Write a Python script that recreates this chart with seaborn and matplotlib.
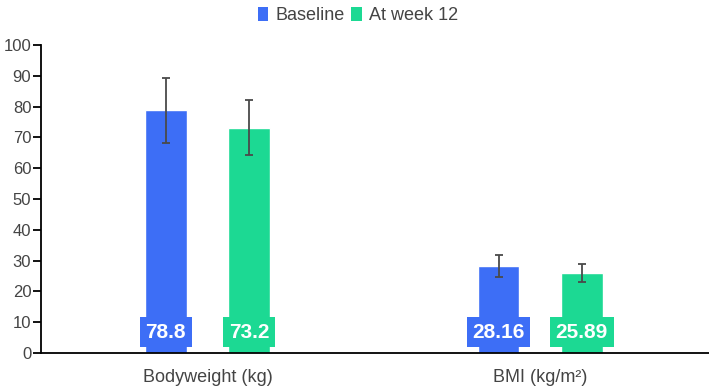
import matplotlib
matplotlib.use("Agg")
import matplotlib.pyplot as plt
import seaborn as sns
import pandas as pd
from matplotlib.patches import Patch

# ---- Data -------------------------------------------####
categories = ['Bodyweight (kg)', 'BMI (kg/m²)']
groups = ['Baseline', 'At week 12']
baseline_mean = [78.8, 28.16]
baseline_sd = [10.6, 3.6]
week12_mean = [73.2, 25.89]
week12_sd = [8.9, 2.9]
label_text = [['78.8', '28.16'], ['73.2', '25.89']]

colors = ['#3D6EF6', '#1CD993']
text_grey = '#444444'

df = pd.DataFrame({
    'measure': categories * 2,
    'group': [groups[0]] * 2 + [groups[1]] * 2,
    'value': baseline_mean + week12_mean,
})
sds = [baseline_sd, week12_sd]

# ---- Plot -------------------------------------------####
sns.set_style('white')
plt.rcParams['font.family'] = ['Liberation Sans', 'DejaVu Sans']

fig = plt.figure(figsize=(7.09, 3.9), dpi=100)
ax = fig.add_axes([41 / 709, 1 - 353 / 390, (709 - 41) / 709, (353 - 45) / 390])

sns.barplot(data=df, x='measure', y='value', hue='group', order=categories,
            hue_order=groups, palette=colors, width=0.5, gap=0.5,
            saturation=1, errorbar=None, legend=False, ax=ax)

# error bars and value labels (copy the bar containers first)
bar_containers = list(ax.containers)
for gi, container in enumerate(bar_containers):
    for ci, bar in enumerate(container.patches):
        xc = bar.get_x() + bar.get_width() / 2
        h = bar.get_height()
        ax.errorbar(xc, h, yerr=sds[gi][ci], fmt='none', ecolor='#4a4a4a',
                    elinewidth=1.3, capsize=3, capthick=1.3, zorder=5)
        ax.text(xc, 6.8, label_text[gi][ci], ha='center', va='center',
                color='white', fontsize=15, fontweight='bold', zorder=6,
                bbox=dict(boxstyle='square,pad=0.27', facecolor=colors[gi],
                          edgecolor='none'))

ax.set_xlim(-0.5, 1.507)
ax.set_ylim(0, 100)
ax.set_yticks(range(0, 101, 10))
ax.set_xlabel('')
ax.set_ylabel('')
ax.tick_params(axis='y', which='both', left=True, length=6, width=1.3,
               color='black', labelsize=12, labelcolor=text_grey, pad=1)
ax.tick_params(axis='x', bottom=False, labelsize=13, labelcolor=text_grey, pad=8)
for side in ['top', 'right']:
    ax.spines[side].set_visible(False)
for side in ['left', 'bottom']:
    ax.spines[side].set_color('black')
    ax.spines[side].set_linewidth(1.3)

handles = [Patch(facecolor=c, edgecolor='none') for c in colors]
fig.legend(handles, groups, loc='upper center', bbox_to_anchor=(0.505, 1.025),
           ncol=2, frameon=False, fontsize=13, handlelength=0.6,
           handleheight=0.9, handletextpad=0.4, columnspacing=0.35,
           labelcolor=text_grey)

plt.savefig('out.png', dpi=100)
